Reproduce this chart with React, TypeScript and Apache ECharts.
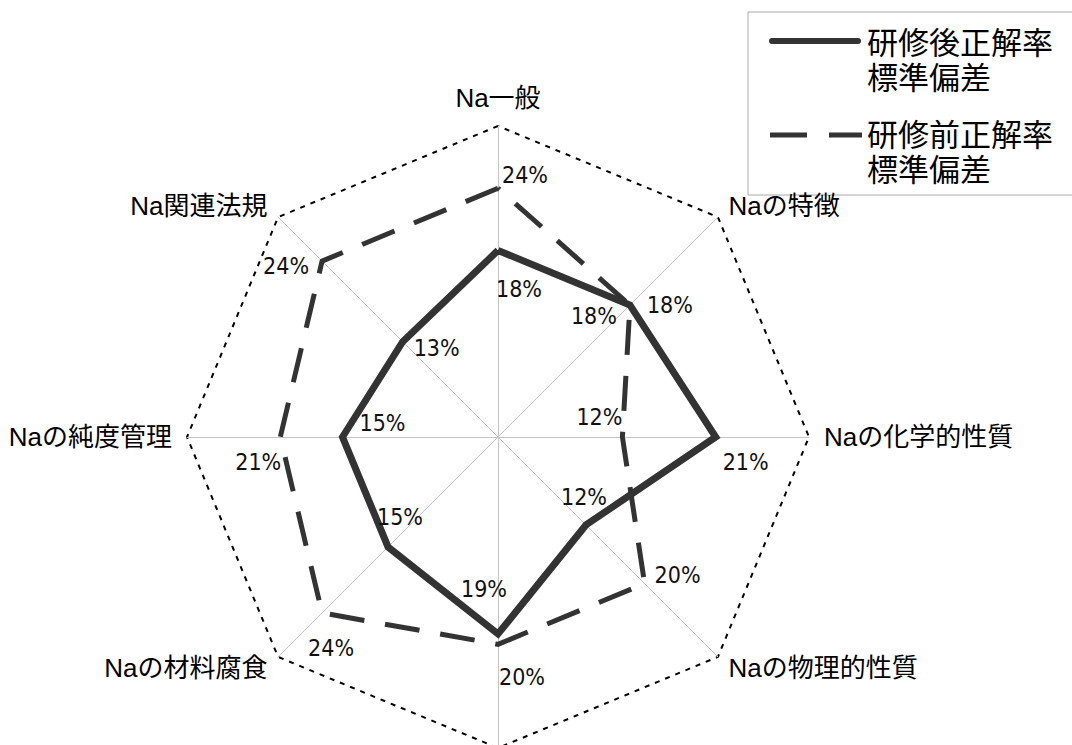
import React, { useEffect, useRef } from "react";
import * as echarts from "echarts";

// Indicators in the order ECharts lays them out (counter-clockwise from the top)
const categories = [
  "Na一般",
  "Na関連法規",
  "Naの純度管理",
  "Naの材料腐食",
  "",
  "Naの物理的性質",
  "Naの化学的性質",
  "Naの特徴",
];
const seriesNames = ["研修後正解率\n標準偏差", "研修前正解率\n標準偏差"];
const afterValues = [18, 13, 15, 15, 19, 12, 21, 18];
const beforeValues = [24, 24, 21, 24, 20, 20, 12, 18];
const axisMax = 30;

// Offsets (px) of each value label from its vertex
const afterLabelOffsets = [
  [21, 39], [34, 6], [40, -14], [12, -30], [-14, -45], [-2, -28], [30, 25], [40, 0],
];
const beforeLabelOffsets = [
  [27, -13], [-36, 5], [-22, 25], [9, 35], [24, 33], [33, -9], [-23, -20], [-36, 11],
];

const LINE = "#333333";
const CJK = "Noto Sans CJK JP";
const AXIS_FONT = `"Liberation Sans", "${CJK}", sans-serif`;
const PCT_FONT = `"Liberation Sans Narrow", "Arial Narrow", "DejaVu Sans Condensed", sans-serif`;

function labelItems(values: number[], offsets: number[][]) {
  return values.map((v, i) => ({
    value: values.map((w, j) => (j === i ? w : -1)),
    label: { offset: offsets[i] },
  }));
}

export default function App() {
  const ref = useRef<HTMLDivElement>(null);

  useEffect(() => {
    if (!ref.current) return;
    const chart = echarts.init(ref.current, undefined, { renderer: "svg" });
    chart.setOption({
      animation: false,
      backgroundColor: "#ffffff",
      radar: {
        center: [498, 437],
        radius: 311,
        startAngle: 90,
        splitNumber: 1,
        shape: "polygon",
        nameGap: 15,
        indicator: categories.map((name) => ({ name, min: 0, max: axisMax })),
        axisName: { color: "#000", fontSize: 26, fontFamily: AXIS_FONT },
        axisLine: { lineStyle: { color: "#c4c4c4", width: 1 } },
        splitLine: { lineStyle: { color: "#000", width: 2, type: [5, 6] } },
        splitArea: { show: false },
        axisTick: { show: false },
        axisLabel: { show: false },
      },
      series: [
        {
          type: "radar",
          name: seriesNames[1],
          symbol: "none",
          silent: true,
          lineStyle: { color: LINE, width: 5, type: [35, 21], join: "miter" },
          data: [{ value: beforeValues, name: seriesNames[1] }],
        },
        {
          type: "radar",
          name: seriesNames[0],
          symbol: "none",
          silent: true,
          lineStyle: { color: LINE, width: 7, join: "miter" },
          data: [{ value: afterValues, name: seriesNames[0] }],
        },
        {
          type: "radar",
          silent: true,
          symbol: "circle",
          symbolSize: 1,
          z: 5,
          lineStyle: { opacity: 0 },
          itemStyle: { color: "rgba(0,0,0,0)" },
          label: {
            show: true,
            position: "inside",
            color: "#111",
            fontSize: 23,
            fontFamily: PCT_FONT,
            formatter: (p: any) => (p.value < 0 ? "" : `${p.value}%`),
          },
          data: [
            ...labelItems(afterValues, afterLabelOffsets),
            ...labelItems(beforeValues, beforeLabelOffsets),
          ],
        },
      ],
      graphic: [
        {
          type: "rect",
          shape: { x: 748, y: 12, width: 400, height: 183 },
          style: { fill: "none", stroke: "#a8a8a8", lineWidth: 1 },
        },
        {
          type: "line",
          shape: { x1: 772, y1: 41, x2: 858, y2: 41 },
          style: { stroke: LINE, lineWidth: 6, lineCap: "round" },
        },
        {
          type: "line",
          shape: { x1: 770, y1: 135, x2: 862, y2: 135 },
          style: { stroke: LINE, lineWidth: 5, lineDash: [37, 22] },
        },
        {
          type: "text",
          x: 867,
          y: 23,
          style: {
            text: seriesNames[0],
            fontSize: 31,
            lineHeight: 35,
            fontFamily: `"${CJK}", sans-serif`,
            fill: "#000",
            verticalAlign: "top",
          },
        },
        {
          type: "text",
          x: 867,
          y: 115,
          style: {
            text: seriesNames[1],
            fontSize: 31,
            lineHeight: 35,
            fontFamily: `"${CJK}", sans-serif`,
            fill: "#000",
            verticalAlign: "top",
          },
        },
      ],
    });
    return () => chart.dispose();
  }, []);

  return (
    <div
      ref={ref}
      style={{ position: "absolute", left: 0, top: 0, width: 1072, height: 745, background: "#fff" }}
    />
  );
}
